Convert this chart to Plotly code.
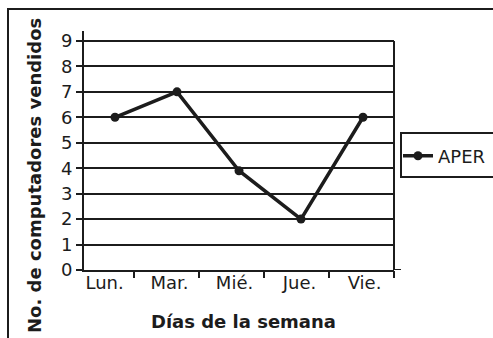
import plotly.graph_objects as go

# Weekly sales data
dias = ["Lun.", "Mar.", "Mié.", "Jue.", "Vie."]
vendidos = [6, 7, 3.9, 2, 6]
serie = "APER"
y_ticks = [0, 1, 2, 3, 4, 5, 6, 7, 8, 9]

W, H = 493, 338
INK = "#1c1c1c"
FONT = "DejaVu Sans"


def px_x(p):
    return p / W


def px_y(p):
    return (H - p) / H


fig = go.Figure()

# Sales line
fig.add_trace(go.Scatter(
    x=dias, y=vendidos, name=serie, mode="lines+markers",
    line=dict(color=INK, width=3.5),
    marker=dict(color=INK, size=9),
    xaxis="x", yaxis="y",
))

# Companion trace that gives the label axis its categories
fig.add_trace(go.Scatter(
    x=dias, y=vendidos, mode="markers", showlegend=False,
    marker=dict(opacity=0), hoverinfo="skip",
    xaxis="x2", yaxis="y",
))

x_dom = [px_x(84), px_x(394)]

# open frames that run off the right / bottom edge of the page
lx, ly0, ly1 = px_x(401), px_y(177), px_y(133)
legend_frame = f"M 1,{ly0} L {lx},{ly0} L {lx},{ly1} L 1,{ly1}"
fx, fy = px_x(8), px_y(9)
chart_frame = f"M {fx},0 L {fx},{fy} L 1,{fy}"

fig.update_layout(
    width=W, height=H,
    margin=dict(l=0, r=0, t=0, b=0, autoexpand=False),
    paper_bgcolor="white", plot_bgcolor="white",
    font=dict(family=FONT, color=INK, size=18),
    showlegend=True,
    legend=dict(
        x=px_x(398), xanchor="left",
        y=px_y(156), yanchor="middle",
        bgcolor="rgba(0,0,0,0)", borderwidth=0,
        font=dict(family=FONT, size=18, color=INK),
    ),
    xaxis=dict(
        domain=x_dom, type="category", categoryarray=dias,
        range=[-0.5, 4.5], showticklabels=False, ticks="",
        showgrid=False, zeroline=False, automargin=False,
        showline=True, linecolor=INK, linewidth=2,
        anchor="y",
    ),
    xaxis2=dict(
        domain=x_dom, type="category", categoryarray=dias,
        overlaying="x", anchor="y", side="bottom",
        range=[-0.27, 4.5], tickson="boundaries", automargin=False,
        ticks="outside", ticklen=7, tickwidth=1.5, tickcolor=INK,
        showgrid=False, zeroline=False, showline=False,
        tickfont=dict(family=FONT, size=18, color=INK),
        ticklabelshift=3,
    ),
    yaxis=dict(
        domain=[px_y(270), px_y(31)], automargin=False,
        range=[0, 9.39], tickmode="array", tickvals=y_ticks,
        ticks="outside", ticklen=6, tickwidth=1.5, tickcolor=INK,
        showgrid=True, gridcolor=INK, gridwidth=1.5,
        zeroline=False, showline=True, linecolor=INK, linewidth=2,
        tickfont=dict(family=FONT, size=18, color=INK),
    ),
    shapes=[
        # right edge of the plotting area
        dict(type="line", xref="x domain", yref="y",
             x0=1, x1=1, y0=0, y1=9, line=dict(color=INK, width=2)),
        # category axis runs a little past the plotting area
        dict(type="line", xref="x domain", yref="y",
             x0=1, x1=1 + 7 / 310, y0=0, y1=0, line=dict(color=INK, width=2)),
        dict(type="path", xref="paper", yref="paper", path=legend_frame,
             line=dict(color=INK, width=2)),
        dict(type="path", xref="paper", yref="paper", path=chart_frame,
             line=dict(color=INK, width=2)),
    ],
    annotations=[
        dict(text="<b>No. de computadores vendidos</b>", textangle=-90,
             xref="paper", yref="paper", x=px_x(34), y=px_y(176),
             xanchor="center", yanchor="middle",
             showarrow=False, font=dict(family=FONT, size=18, color=INK)),
        dict(text="<b>Días de la semana</b>",
             xref="paper", yref="paper", x=px_x(243.5), y=px_y(321),
             xanchor="center", yanchor="middle",
             showarrow=False, font=dict(family=FONT, size=18, color=INK)),
    ],
)

fig.write_html("out.html")
